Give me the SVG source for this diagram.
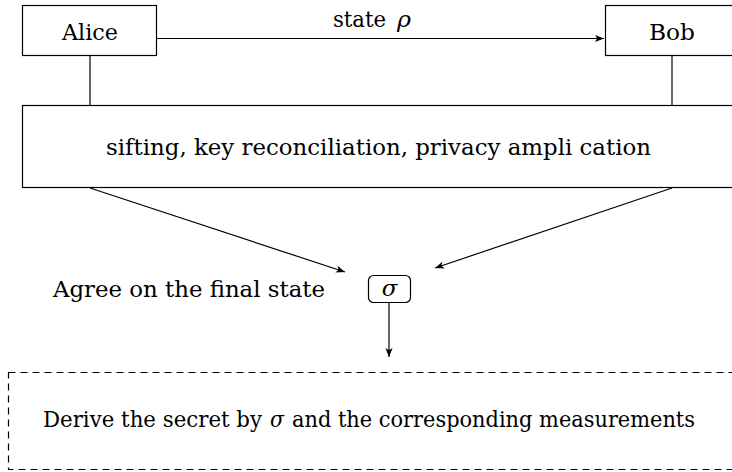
<svg xmlns="http://www.w3.org/2000/svg" width="732" height="472" viewBox="0 0 732 472">
<style>
.box{fill:#fff;stroke:#000;stroke-width:1.2}
.t{font-family:'DejaVu Serif',serif;font-size:23px;fill:#000}
.i{font-style:italic}
.c{stroke:#000;stroke-width:1.2;fill:none}
</style>
<defs>
<marker id="ah" viewBox="0 0 10 10" refX="10" refY="5" markerWidth="9" markerHeight="9" markerUnits="userSpaceOnUse" orient="auto">
<path d="M0,1 L10,5 L0,9 L2.5,5 Z" fill="#000"/>
</marker>
</defs>
<rect width="732" height="472" fill="#fff"/>
<g id="connectors">
<line class="c" x1="157" y1="38.5" x2="604" y2="38.5" marker-end="url(#ah)"/>
<line class="c" x1="90" y1="55" x2="90" y2="105"/>
<line class="c" x1="672" y1="55" x2="672" y2="105"/>
<line class="c" x1="90" y1="188" x2="345" y2="272" marker-end="url(#ah)"/>
<line class="c" x1="672" y1="188" x2="435" y2="268" marker-end="url(#ah)"/>
<line class="c" x1="389" y1="303" x2="389" y2="357" marker-end="url(#ah)"/>
<text class="t" x="333" y="27" textLength="53" lengthAdjust="spacingAndGlyphs">state</text>
<text class="t i" x="397" y="27" textLength="14" lengthAdjust="spacingAndGlyphs">ρ</text>
</g>
<g id="alice">
<rect class="box" x="22.5" y="5.5" width="134" height="50"/>
<text class="t" x="62" y="40" textLength="56" lengthAdjust="spacingAndGlyphs">Alice</text>
</g>
<g id="bob">
<rect class="box" x="605.5" y="5.5" width="140" height="50"/>
<text class="t" x="649" y="40" textLength="46" lengthAdjust="spacingAndGlyphs">Bob</text>
</g>
<g id="process">
<rect class="box" x="22.5" y="105.5" width="730" height="82"/>
<text class="t" x="106" y="155" textLength="545" lengthAdjust="spacingAndGlyphs">sifting, key reconciliation, privacy ampli cation</text>
</g>
<g id="agree">
<text class="t" x="53" y="297" textLength="272" lengthAdjust="spacingAndGlyphs">Agree on the final state</text>
</g>
<g id="sigma">
<rect class="box" x="368.5" y="275.5" width="42" height="27" rx="5"/>
<text class="t i" x="389.5" y="296" text-anchor="middle">σ</text>
</g>
<g id="derive">
<rect x="8.5" y="372.5" width="740" height="97" fill="none" stroke="#000" stroke-width="1.2" stroke-dasharray="7 5"/>
<text class="t" x="43" y="427" textLength="219" lengthAdjust="spacingAndGlyphs">Derive the secret by</text>
<text class="t i" x="270" y="427" textLength="14" lengthAdjust="spacingAndGlyphs">σ</text>
<text class="t" x="292" y="427" textLength="403" lengthAdjust="spacingAndGlyphs">and the corresponding measurements</text>
</g>
</svg>
